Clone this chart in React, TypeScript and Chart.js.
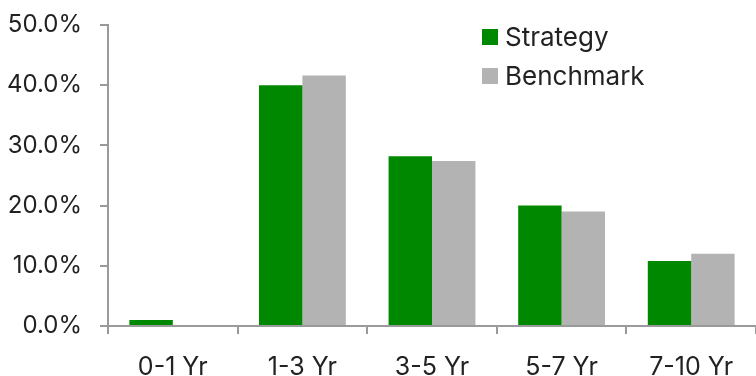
import React, { useEffect, useRef } from "react";
import { Chart, registerables } from "chart.js";

Chart.register(...registerables);

const categories = ["0-1 Yr", "1-3 Yr", "3-5 Yr", "5-7 Yr", "7-10 Yr"];
const strategyValues = [1.0, 40.0, 28.2, 20.0, 10.8];
const benchmarkValues = [0.0, 41.6, 27.4, 19.0, 12.0];
const seriesNames = ["Strategy", "Benchmark"];
const seriesColors = ["#008800", "#b3b3b3"];

const FONT = "Inter, 'Noto Sans', sans-serif";
const TEXT = "#222222";
const AXIS = "#9a9a9a";

const legendPlugin = {
  id: "customLegend",
  afterDraw(chart: any) {
    const ctx = chart.ctx;
    const area = chart.chartArea;
    const x0 = area.right - 274;
    const y0 = area.top + 4;
    ctx.save();
    ctx.font = `26px ${FONT}`;
    ctx.textBaseline = "alphabetic";
    ctx.textAlign = "left";
    chart.data.datasets.forEach((ds: any, i: number) => {
      const y = y0 + i * 39;
      ctx.fillStyle = ds.backgroundColor;
      ctx.fillRect(x0, y, 16, 16);
      ctx.fillStyle = TEXT;
      ctx.fillText(ds.label, x0 + 23, y + 17);
    });
    ctx.restore();
  },
};

export default function App() {
  const ref = useRef<HTMLCanvasElement | null>(null);

  useEffect(() => {
    document.body.style.margin = "0";
    if (!ref.current) return;
    const chart = new Chart(ref.current, {
      type: "bar",
      data: {
        labels: categories,
        datasets: [
          {
            label: seriesNames[0],
            data: strategyValues,
            backgroundColor: seriesColors[0],
            categoryPercentage: 0.67,
            barPercentage: 1.0,
          },
          {
            label: seriesNames[1],
            data: benchmarkValues,
            backgroundColor: seriesColors[1],
            categoryPercentage: 0.67,
            barPercentage: 1.0,
          },
        ],
      },
      options: {
        animation: false,
        responsive: true,
        maintainAspectRatio: false,
        layout: { padding: { top: 25, left: 0, right: 0, bottom: 0 } },
        plugins: {
          legend: { display: false },
          tooltip: { enabled: false },
        },
        scales: {
          x: {
            grid: {
              display: true,
              drawOnChartArea: false,
              drawTicks: true,
              tickLength: 8,
              tickColor: AXIS,
              lineWidth: 2,
              offset: true,
            },
            border: { display: true, color: AXIS, width: 2 },
            ticks: {
              color: TEXT,
              font: { family: FONT, size: 25 },
              padding: 18,
              maxRotation: 0,
            },
            afterFit: (scale: any) => {
              scale.height = 50;
              scale.paddingLeft = 0;
              scale.paddingRight = 0;
            },
          },
          y: {
            min: 0,
            max: 50,
            grid: {
              display: true,
              drawOnChartArea: false,
              drawTicks: true,
              tickLength: 8,
              tickColor: AXIS,
              lineWidth: 2,
            },
            border: { display: true, color: AXIS, width: 2 },
            ticks: {
              stepSize: 10,
              color: TEXT,
              font: { family: FONT, size: 24 },
              padding: 18,
              callback: (v: any) => Number(v).toFixed(1) + "%",
            },
            afterFit: (scale: any) => {
              scale.width = 108;
              scale.paddingTop = 0;
              scale.paddingBottom = 0;
            },
          },
        },
      },
      plugins: [legendPlugin],
    });
    return () => chart.destroy();
  }, []);

  return (
    <div style={{ width: 756, height: 376, position: "relative" }}>
      <canvas ref={ref} />
    </div>
  );
}
